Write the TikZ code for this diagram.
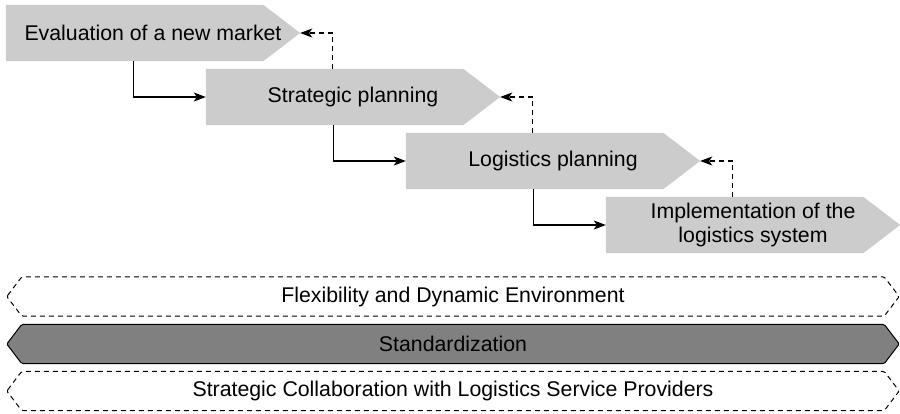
\documentclass[tikz,border=0pt]{standalone}
\usepackage{fontspec}
\setmainfont{Liberation Sans}
\usetikzlibrary{arrows.meta,backgrounds}
\definecolor{phasegray}{RGB}{204,204,204}
\definecolor{stdgray}{RGB}{128,128,128}
\begin{document}
\begin{tikzpicture}[x=1pt,y=-1pt,>={Stealth[length=12pt,width=9pt,inset=3pt]},
    phase/.style={minimum width=294pt,minimum height=56pt,inner sep=0pt,align=center,font=\fontsize{21.3}{24}\selectfont},
    band/.style={minimum width=892pt,minimum height=39pt,inner sep=0pt,font=\fontsize{21.3}{24}\selectfont},
    softband/.style={dash pattern=on 5pt off 4pt},
    hardband/.style={fill=stdgray},
    link/.style={->,line width=1.2pt},
    back/.style={->,line width=1.2pt,dash pattern=on 5pt off 4pt}]
  \useasboundingbox (0,0) rectangle (900,413);
  % process phases
  \node[phase] (eval) at (153,33) {Evaluation of a new market};
  \node[phase] (strat) at (353,97) {Strategic planning};
  \node[phase] (logplan) at (553,161) {Logistics planning};
  \node[phase] (impl) at (753,225) {Implementation of the\\logistics system};
  % cross-cutting bands
  \node[band] (flex) at (453,296.5) {Flexibility and Dynamic Environment};
  \node[band] (std) at (453,344) {Standardization};
  \node[band] (collab) at (453,391) {Strategic Collaboration with Logistics Service Providers};
  \begin{scope}[on background layer]
    \foreach \n in {eval,strat,logplan,impl}
      \fill[phasegray] (\n.north west) -- ([xshift=-37pt]\n.north east) -- (\n.east)
        -- ([xshift=-37pt]\n.south east) -- (\n.south west) -- cycle;
    \foreach \n/\s in {flex/softband,std/hardband,collab/softband}
      \draw[line width=1pt,rounded corners=1.5pt,\s] (\n.west) -- ([xshift=15pt]\n.north west)
        -- ([xshift=-15pt]\n.north east) -- (\n.east) -- ([xshift=-15pt]\n.south east)
        -- ([xshift=15pt]\n.south west) -- cycle;
  \end{scope}
  % forward flow
  \draw[link] ([xshift=128pt]eval.south west) |- (strat.west);
  \draw[link] ([xshift=128pt]strat.south west) |- (logplan.west);
  \draw[link] ([xshift=128pt]logplan.south west) |- (impl.west);
  % feedback
  \draw[back] ([xshift=127pt]strat.north west) |- (eval.east);
  \draw[back] ([xshift=127pt]logplan.north west) |- (strat.east);
  \draw[back] ([xshift=127pt]impl.north west) |- (logplan.east);
\end{tikzpicture}
\end{document}
